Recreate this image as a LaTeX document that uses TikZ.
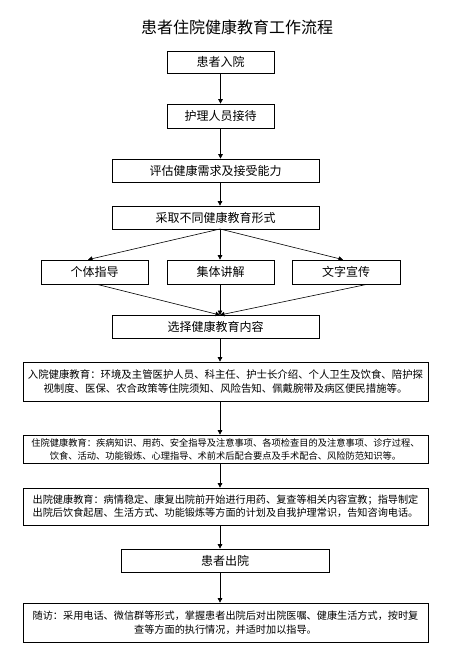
\documentclass[tikz,border=0pt]{standalone}
\usepackage{fontspec}
\setmainfont{Noto Sans CJK SC}
\usetikzlibrary{arrows.meta}
\tikzset{
  x=1pt,y=-1pt,
  flowbox/.style={draw,line width=0.7pt,inner sep=0pt,align=center,font=\fontsize{12}{14}\selectfont},
  textbox/.style={draw,line width=0.7pt,inner sep=0pt,align=center,minimum width=405pt},
  flow/.style={line width=0.6pt,-{Triangle[length=4.5pt,width=4.5pt]}}
}
\begin{document}
\begin{tikzpicture}
\useasboundingbox (0,0) rectangle (452,656);
\node[font=\fontsize{16}{18}\selectfont] (title) at (237,27) {患者住院健康教育工作流程};

\node[flowbox,minimum width=107pt,minimum height=22pt] (b1) at (220.5,62) {患者入院};
\node[flowbox,minimum width=107pt,minimum height=24pt] (b2) at (220.5,116) {护理人员接待};
\node[flowbox,minimum width=207pt,minimum height=23pt] (b3) at (215.5,170.5) {评估健康需求及接受能力};
\node[flowbox,minimum width=207pt,minimum height=23pt] (b4) at (215.5,217.5) {采取不同健康教育形式};
\node[flowbox,minimum width=107pt,minimum height=24pt] (g1) at (94.5,272) {个体指导};
\node[flowbox,minimum width=107pt,minimum height=24pt] (g2) at (220.5,272) {集体讲解};
\node[flowbox,minimum width=108pt,minimum height=24pt] (g3) at (346,272) {文字宣传};
\node[flowbox,minimum width=207pt,minimum height=23pt] (b5) at (215.5,326.5) {选择健康教育内容};

\node[textbox,minimum height=39pt,font=\fontsize{10.4}{14}\selectfont] (e1) at (225.5,381.5)
  {入院健康教育：环境及主管医护人员、科主任、护士长介绍、个人卫生及饮食、陪护探\\视制度、医保、农合政策等住院须知、风险告知、佩戴腕带及病区便民措施等。};
\node[textbox,minimum height=28pt,font=\fontsize{9.25}{13}\selectfont] (e2) at (225.5,449)
  {住院健康教育：疾病知识、用药、安全指导及注意事项、各项检查目的及注意事项、诊疗过程、\\饮食、活动、功能锻炼、心理指导、术前术后配合要点及手术配合、风险防范知识等。};
\node[textbox,minimum height=37pt,font=\fontsize{10.15}{13}\selectfont] (e3) at (225.5,506.5)
  {出院健康教育：病情稳定、康复出院前开始进行用药、复查等相关内容宣教；指导制定\\出院后饮食起居、生活方式、功能锻炼等方面的计划及自我护理常识，告知咨询电话。};
\node[flowbox,minimum width=208pt,minimum height=23pt] (b6) at (225,560.5) {患者出院};
\node[textbox,minimum height=39pt,font=\fontsize{10.15}{14}\selectfont] (e4) at (225.5,622.5)
  {随访：采用电话、微信群等形式，掌握患者出院后对出院医嘱、健康生活方式，按时复\\查等方面的执行情况，并适时加以指导。};

\coordinate (s4) at (220,229);
\coordinate (m5) at (220,315);
\draw[flow] (b1.south) -- (b2.north);
\draw[flow] (b2.south) -- (b2.south |- b3.north);
\draw[flow] (b3.south -| s4) -- (b4.north -| s4);
\draw[flow] (s4) -- ([xshift=-6.5pt]g1.north);
\draw[flow] (s4) -- (g2.north -| s4);
\draw[flow] (s4) -- ([xshift=-3pt]g3.north);
\draw[flow] ([xshift=2.5pt]g1.south) -- (m5);
\draw[flow] (g2.south -| m5) -- (m5);
\draw[flow] ([xshift=21pt]g3.south) -- (m5);
\draw[flow] (b5.south -| s4) -- (e1.north -| s4);
\draw[flow] (e1.south -| s4) -- (e2.north -| s4);
\draw[flow] (e2.south -| s4) -- (e3.north -| s4);
\draw[flow] (e3.south -| s4) -- (b6.north -| s4);
\draw[flow] (b6.south -| s4) -- (e4.north -| s4);
\end{tikzpicture}
\end{document}
